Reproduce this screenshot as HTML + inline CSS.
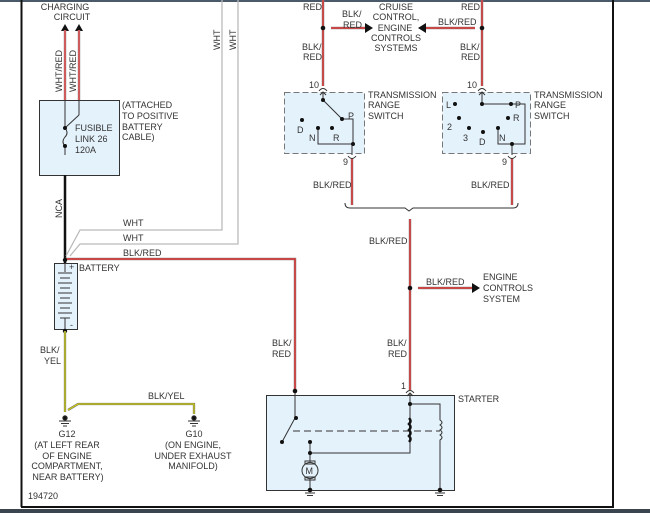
<!DOCTYPE html>
<html><head><style>
body{margin:0;background:#fff;}
svg{display:block;font-family:"Liberation Sans",sans-serif;}
text{font-size:9px;fill:#333;}
</style></head><body>
<svg width="650" height="513" viewBox="0 0 650 513">
<rect x="0" y="0" width="650" height="2" fill="#4a5a6a"/>
<rect x="0" y="509" width="650" height="4" fill="#3a4550"/>
<line x1="21.5" y1="0" x2="21.5" y2="507" stroke="#111" stroke-width="2"/>
<line x1="613" y1="0" x2="613" y2="507" stroke="#111" stroke-width="2"/>
<line x1="21" y1="507" x2="614" y2="507" stroke="#111" stroke-width="2"/>

<text x="65" y="10" text-anchor="middle">CHARGING</text>
<text x="72" y="20" text-anchor="middle">CIRCUIT</text>
<polygon points="61,31 69,31 65,24" fill="#111"/>
<polygon points="75,31 83,31 79,24" fill="#111"/>
<g stroke="#999" stroke-width="2.5"><line x1="65" y1="30" x2="65" y2="100"/><line x1="79" y1="30" x2="79" y2="100"/></g>
<g stroke="#e33" stroke-width="1.2"><line x1="65" y1="30" x2="65" y2="100"/><line x1="79" y1="30" x2="79" y2="100"/></g>
<text transform="translate(62,92) rotate(-90)">WHT/RED</text>
<text transform="translate(76,92) rotate(-90)">WHT/RED</text>
<rect x="39.5" y="100.5" width="80" height="75" fill="#e4f2fb" stroke="#333"/>
<g stroke="#333" stroke-width="1" fill="none">
<line x1="65" y1="100" x2="65" y2="128"/><line x1="79" y1="100" x2="79" y2="115"/><line x1="79" y1="115" x2="65" y2="128"/>
<path d="M65,128 q4,5 0,9 q-4,5 0,9 v9"/>
</g>
<circle cx="65" cy="128" r="2" fill="#111"/><circle cx="65" cy="146" r="2" fill="#111"/>
<text x="75" y="131">FUSIBLE</text><text x="75" y="142">LINK 26</text><text x="75" y="153">120A</text>
<text x="122" y="108">(ATTACHED</text><text x="122" y="119">TO POSITIVE</text><text x="122" y="130">BATTERY</text><text x="122" y="140">CABLE)</text>
<line x1="65" y1="175" x2="65" y2="263" stroke="#111" stroke-width="2.5"/>
<text transform="translate(62,218) rotate(-90)">NCA</text>

<g stroke="#bbb" stroke-width="1.3" fill="none">
<path d="M222,0 V230 H80 L66,256"/>
<path d="M238,0 V244 H80 L70,256"/>
</g>
<text transform="translate(220,50) rotate(-90)">WHT</text>
<text transform="translate(236,50) rotate(-90)">WHT</text>
<text x="123" y="226">WHT</text><text x="123" y="241">WHT</text>
<text x="123" y="256">BLK/RED</text>
<g fill="none"><path d="M65,259 H295 V391" stroke="#888" stroke-width="2.5"/><path d="M65,259 H295 V391" stroke="#e22" stroke-width="1.2"/></g>
<circle cx="65" cy="260" r="2.2" fill="#111"/>

<rect x="54.5" y="263.5" width="23" height="66" fill="#e4f2fb" stroke="#333"/>
<text x="69" y="270" font-size="8">+</text><text x="70" y="328" font-size="8">-</text>
<g stroke="#333" stroke-width="1">
<line x1="65" y1="263" x2="65" y2="272"/>
<line x1="58" y1="273" x2="72" y2="273"/><line x1="60" y1="278" x2="70" y2="278"/>
<line x1="58" y1="283" x2="72" y2="283"/><line x1="60" y1="288" x2="70" y2="288"/>
<line x1="58" y1="293" x2="72" y2="293"/><line x1="60" y1="298" x2="70" y2="298"/>
<line x1="58" y1="303" x2="72" y2="303"/><line x1="60" y1="308" x2="70" y2="308"/>
<line x1="58" y1="313" x2="72" y2="313"/><line x1="60" y1="318" x2="70" y2="318"/>
<line x1="65" y1="318" x2="65" y2="330"/>
</g>
<text x="79" y="271">BATTERY</text>
<circle cx="65" cy="331" r="2.2" fill="#111"/>
<g fill="none"><path d="M65,331 V412 M68,410 L78,404 H194 V414" stroke="#776" stroke-width="2.3"/><path d="M65,331 V412 M68,410 L78,404 H194 V414" stroke="#dd0" stroke-width="1"/></g>
<text x="40" y="353">BLK/</text><text x="44" y="364">YEL</text>
<text x="148" y="399">BLK/YEL</text>
<g stroke="#333" stroke-width="1">
<circle cx="65" cy="418" r="2.2" fill="#111"/><line x1="59" y1="421" x2="71" y2="421"/><line x1="61" y1="423.5" x2="69" y2="423.5"/><line x1="63" y1="426" x2="67" y2="426"/>
<circle cx="194" cy="418" r="2.2" fill="#111"/><line x1="188" y1="421" x2="200" y2="421"/><line x1="190" y1="423.5" x2="198" y2="423.5"/><line x1="192" y1="426" x2="196" y2="426"/>
</g>
<g text-anchor="middle"><text x="67" y="437">G12</text><text x="67" y="448">(AT LEFT REAR</text><text x="67" y="459">OF ENGINE</text><text x="67" y="469">COMPARTMENT,</text><text x="68" y="480">NEAR BATTERY)</text>
<text x="194" y="437">G10</text><text x="193" y="448">(ON ENGINE,</text><text x="193" y="459">UNDER EXHAUST</text><text x="193" y="469">MANIFOLD)</text></g>
<text x="28" y="499">194720</text>

<g fill="none" stroke="#888" stroke-width="2.5"><path d="M323,0 V86 M331,28 H365 M482,0 V86 M475,28 H425 M352,158 V205 M512,158 V205 M410,219 V390 M418,288 H472"/></g>
<g fill="none" stroke="#e22" stroke-width="1.2"><path d="M323,0 V86 M331,28 H365 M482,0 V86 M475,28 H425 M352,158 V205 M512,158 V205 M410,219 V390 M418,288 H472"/></g>
<circle cx="323" cy="28" r="2.3" fill="#111"/><circle cx="482" cy="28" r="2.3" fill="#111"/><circle cx="410" cy="288" r="2.3" fill="#111"/>
<polygon points="365,23 373,28 365,33" fill="#111"/><polygon points="426,23 418,28 426,33" fill="#111"/><polygon points="472,283 480,288 472,293" fill="#111"/>
<text x="303" y="10">RED</text><text x="461" y="10">RED</text>
<text x="342" y="17">BLK/</text><text x="343" y="28">RED</text>
<text x="438" y="25">BLK/RED</text>
<g text-anchor="middle"><text x="396" y="10">CRUISE</text><text x="396" y="20">CONTROL,</text><text x="395" y="31">ENGINE</text><text x="396" y="41">CONTROLS</text><text x="396" y="51">SYSTEMS</text></g>
<text x="302" y="50">BLK/</text><text x="303" y="60">RED</text>
<text x="460" y="50">BLK/</text><text x="461" y="60">RED</text>
<text x="309" y="88">10</text><text x="467" y="88">10</text>
<g fill="none" stroke="#333" stroke-width="1">
<path d="M319,91 q4,-5 8,0 M478,91 q4,-5 8,0 M348,156 q4,5 8,0 M508,156 q4,5 8,0 M406,393 q4,-5 8,0"/>
</g>
<rect x="284.5" y="92.5" width="80" height="61" fill="#e4f2fb" stroke="#777" stroke-dasharray="6,3"/>
<rect x="442.5" y="92.5" width="88" height="61" fill="#e4f2fb" stroke="#777" stroke-dasharray="6,3"/>
<g stroke="#333" stroke-width="1" fill="none">
<path d="M323,92 V100 L342,119"/><path d="M342,119 H353 V144 H318 V128"/><path d="M352,144 V155"/>
<path d="M482,92 V104 H511 M511,104 H525 V144 H498 V128"/><path d="M512,144 V155"/>
<path d="M320,95 l3,-3 l3,3 M479,95 l3,-3 l3,3"/>
</g>
<g fill="#111"><circle cx="323" cy="100" r="2"/><circle cx="342" cy="119" r="2"/><circle cx="302" cy="120" r="2"/><circle cx="318" cy="128" r="2"/><circle cx="332" cy="128" r="2"/><circle cx="353" cy="144" r="2"/>
<circle cx="482" cy="104" r="2"/><circle cx="511" cy="104" r="2"/><circle cx="455" cy="104" r="2"/><circle cx="459" cy="118" r="2"/><circle cx="508" cy="118" r="2"/><circle cx="469" cy="128" r="2"/><circle cx="483" cy="132" r="2"/><circle cx="498" cy="128" r="2"/><circle cx="512" cy="144" r="2"/></g>
<text x="348" y="119">P</text><text x="297" y="133">D</text><text x="309" y="141">N</text><text x="333" y="141">R</text>
<text x="446" y="108">L</text><text x="515" y="108">P</text><text x="513" y="121">R</text><text x="447" y="130">2</text><text x="463" y="141">3</text><text x="479" y="145">D</text><text x="499" y="141">N</text>
<text x="368" y="98">TRANSMISSION</text><text x="368" y="108">RANGE</text><text x="368" y="119">SWITCH</text>
<text x="534" y="98">TRANSMISSION</text><text x="534" y="108">RANGE</text><text x="534" y="119">SWITCH</text>
<text x="343" y="165">9</text><text x="502" y="165">9</text>
<text x="313" y="188">BLK/RED</text><text x="471" y="188">BLK/RED</text>
<path d="M345,203 q0,5 5,5 H405 l4,3 l4,-3 H513 q5,0 5,-5" fill="none" stroke="#333" stroke-width="1"/>
<text x="369" y="244">BLK/RED</text>
<text x="426" y="285">BLK/RED</text>
<text x="483" y="280">ENGINE</text><text x="483" y="291">CONTROLS</text><text x="483" y="302">SYSTEM</text>
<text x="387" y="346">BLK/</text><text x="388" y="357">RED</text>
<text x="272" y="346">BLK/</text><text x="272" y="357">RED</text>
<text x="401" y="389">1</text>

<rect x="266.5" y="395.5" width="188" height="95" fill="#e4f2fb" stroke="#333"/>
<text x="458" y="402">STARTER</text>
<g stroke="#333" stroke-width="1" fill="none">
<path d="M295,391 V418 L282,442"/>
<path d="M410,393 V441 M407,396 l3,-3 l3,3 M410,404 H440 V420 q4,2.5 0,5 q4,2.5 0,5 q4,2.5 0,5 q4,2.5 0,5 V490"/>
<path d="M310,442 V453 H410 V441"/>
<path d="M310,453 V462 M310,478 V490"/>
<line x1="293" y1="431" x2="440" y2="431" stroke-dasharray="7,4"/>
<rect x="305" y="461" width="10" height="3"/><rect x="305" y="477" width="10" height="3"/>
<circle cx="310" cy="470.5" r="8"/>
</g>
<path d="M409,418 q3,3 0,6 q3,3 0,6 q3,3 0,6 q3,3 0,6" stroke="#111" stroke-width="2.5" fill="none"/>
<text x="305.5" y="474" font-size="10">M</text>
<g fill="#111"><circle cx="295" cy="391" r="2.3"/><circle cx="296" cy="418" r="2"/><circle cx="282" cy="442" r="2"/><circle cx="410" cy="404" r="2"/><circle cx="310" cy="442" r="2"/><circle cx="310" cy="453" r="2"/><circle cx="310" cy="490" r="2.3"/><circle cx="440" cy="490" r="2.3"/></g>
<g stroke="#333" stroke-width="1"><line x1="305" y1="493" x2="315" y2="493"/><line x1="307" y1="495.5" x2="313" y2="495.5"/><line x1="435" y1="493" x2="445" y2="493"/><line x1="437" y1="495.5" x2="443" y2="495.5"/></g>
</svg>
</body></html>
